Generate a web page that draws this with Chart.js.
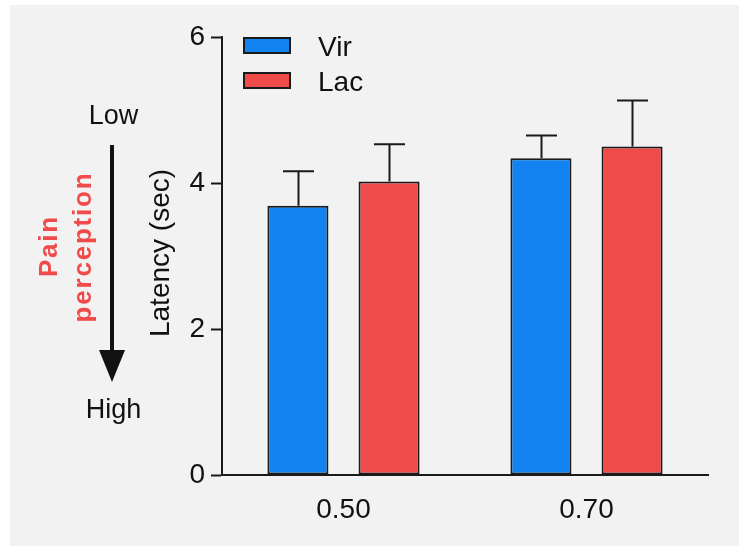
<!DOCTYPE html>
<html>
<head>
<meta charset="utf-8">
<script src="https://cdn.jsdelivr.net/npm/chart.js@4/dist/chart.umd.min.js"></script>
<style>
  html, body { margin: 0; padding: 0; background: #ffffff; }
  #wrap { width: 739px; height: 546px; }
</style>
</head>
<body>
<div id="wrap"><canvas id="c" width="739" height="546"></canvas></div>
<script>
// Stimulus intensity groups and mean withdrawal latency (sec) with SEM
const categories = ['0.50', '0.70'];
const seriesNames = ['Vir', 'Lac'];
const virMeans = [3.69, 4.34];
const virSem = [0.47, 0.31];
const lacMeans = [4.02, 4.50];
const lacSem = [0.51, 0.63];
const yTicks = [0, 2, 4, 6];

const FONT = '"Liberation Sans", Arial, Helvetica, sans-serif';
const INK = '#1a1a1a';
const BLUE = '#1283f0';
const RED = '#ef4b4b';

// light panel behind everything
const panelBg = {
  id: 'panelBg',
  beforeDraw(chart) {
    const ctx = chart.ctx;
    ctx.save();
    ctx.fillStyle = '#ffffff';
    ctx.fillRect(0, 0, chart.width, chart.height);
    ctx.fillStyle = '#f2f2f2';
    ctx.fillRect(10, 5, chart.width - 10, chart.height - 5);
    ctx.restore();
  }
};

// upward SEM whiskers with a cap
const errorBars = {
  id: 'errorBars',
  afterDatasetsDraw(chart) {
    const ctx = chart.ctx;
    const yScale = chart.scales.y;
    ctx.save();
    ctx.strokeStyle = INK;
    ctx.lineWidth = 2;
    chart.data.datasets.forEach((ds, di) => {
      const meta = chart.getDatasetMeta(di);
      meta.data.forEach((bar, i) => {
        const top = yScale.getPixelForValue(ds.data[i] + ds.sem[i]);
        const x = Math.round(bar.x) + 0.5;
        ctx.beginPath();
        ctx.moveTo(x, bar.y);
        ctx.lineTo(x, top);
        ctx.moveTo(x - 15.5, top);
        ctx.lineTo(x + 15.5, top);
        ctx.stroke();
      });
    });
    ctx.restore();
  }
};

// legend boxes, axis title and the pain-perception arrow
const annotations = {
  id: 'annotations',
  afterDraw(chart) {
    const ctx = chart.ctx;
    ctx.save();

    // legend
    chart.data.datasets.forEach((ds, i) => {
      const y = 37 + i * 35;
      ctx.fillStyle = ds.backgroundColor;
      ctx.fillRect(243, y, 48, 17);
      ctx.strokeStyle = INK;
      ctx.lineWidth = 2;
      ctx.strokeRect(244, y + 1, 46, 15);
      ctx.fillStyle = '#111';
      ctx.font = '28px ' + FONT;
      ctx.textAlign = 'left';
      ctx.textBaseline = 'alphabetic';
      ctx.fillText(ds.label, 318, y + 19);
    });

    // y axis title
    ctx.save();
    ctx.translate(169, 253);
    ctx.rotate(-Math.PI / 2);
    ctx.fillStyle = '#111';
    ctx.font = '28px ' + FONT;
    ctx.textAlign = 'center';
    ctx.textBaseline = 'alphabetic';
    ctx.fillText('Latency (sec)', 0, 0);
    ctx.restore();

    // Low / High labels
    ctx.fillStyle = '#111';
    ctx.font = '27px ' + FONT;
    ctx.textAlign = 'center';
    ctx.textBaseline = 'alphabetic';
    ctx.fillText('Low', 113.5, 124);
    ctx.fillText('High', 113.5, 418);

    // arrow
    ctx.strokeStyle = '#111';
    ctx.lineWidth = 4;
    ctx.beginPath();
    ctx.moveTo(112, 145);
    ctx.lineTo(112, 352);
    ctx.stroke();
    ctx.fillStyle = '#111';
    ctx.beginPath();
    ctx.moveTo(99, 350);
    ctx.lineTo(125, 350);
    ctx.lineTo(112, 382);
    ctx.closePath();
    ctx.fill();

    // red rotated caption
    ctx.fillStyle = '#f04a4a';
    ctx.font = 'bold 26px ' + FONT;
    if ('letterSpacing' in ctx) ctx.letterSpacing = '1.8px';
    ctx.textAlign = 'center';
    ctx.textBaseline = 'alphabetic';
    ctx.save();
    ctx.translate(57, 246);
    ctx.rotate(-Math.PI / 2);
    ctx.fillText('Pain', 0, 0);
    ctx.restore();
    ctx.save();
    ctx.translate(91, 247);
    ctx.rotate(-Math.PI / 2);
    ctx.fillText('perception', 0, 0);
    ctx.restore();

    ctx.restore();
  }
};

new Chart(document.getElementById('c'), {
  type: 'bar',
  data: {
    labels: categories,
    datasets: [
      { label: seriesNames[0], data: virMeans, sem: virSem,
        backgroundColor: BLUE, borderColor: INK, borderWidth: 2, borderSkipped: false },
      { label: seriesNames[1], data: lacMeans, sem: lacSem,
        backgroundColor: RED, borderColor: INK, borderWidth: 2, borderSkipped: false }
    ]
  },
  options: {
    responsive: false,
    devicePixelRatio: 1,
    animation: false,
    events: [],
    layout: { padding: { left: 0, top: 37, right: 31, bottom: 0 } },
    datasets: { bar: { categoryPercentage: 0.75, barPercentage: 0.67 } },
    plugins: { legend: { display: false }, tooltip: { enabled: false } },
    scales: {
      x: {
        grid: { display: false, drawTicks: false },
        border: { display: true, color: INK, width: 2 },
        ticks: { color: '#111', font: { family: FONT, size: 28 }, padding: 18 },
        afterFit(scale) { scale.height = 71; }
      },
      y: {
        min: 0, max: 6,
        afterBuildTicks(scale) { scale.ticks = yTicks.map(v => ({ value: v })); },
        grid: { drawOnChartArea: false, drawTicks: true, tickLength: 11, color: INK, tickWidth: 2 },
        border: { display: true, color: INK, width: 2 },
        ticks: { color: '#111', font: { family: FONT, size: 28 }, padding: 6 },
        afterFit(scale) { scale.width = 222; }
      }
    }
  },
  plugins: [panelBg, errorBars, annotations]
});
</script>
</body>
</html>
